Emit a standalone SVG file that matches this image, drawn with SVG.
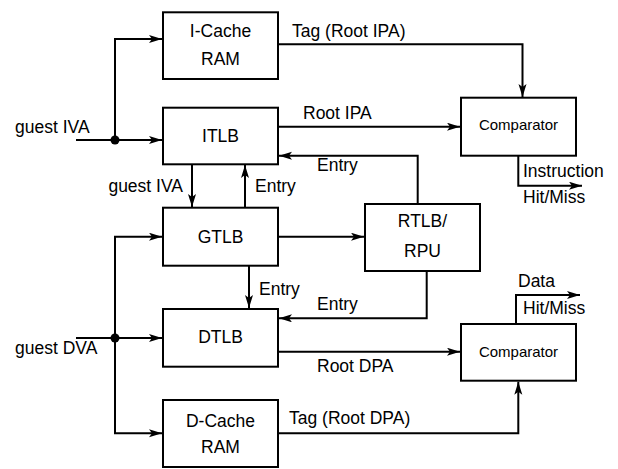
<svg xmlns="http://www.w3.org/2000/svg" width="618" height="469" viewBox="0 0 618 469">
<style>
.box{fill:#fff;stroke:#000;stroke-width:2}
.w{fill:none;stroke:#000;stroke-width:2}
text{font-family:"Liberation Sans",Arial,sans-serif;font-size:17.5px;fill:#000}
.c{text-anchor:middle}
.cmp{font-size:15px}
</style>
<defs>
<marker id="ah" markerUnits="userSpaceOnUse" markerWidth="14" markerHeight="10" refX="13" refY="4" orient="auto">
<path d="M0,0 L13,4 L0,8 L3,4 z" fill="#000"/>
</marker>
</defs>
<g id="connectors">
<path class="w" d="M115,140 V39 H162" marker-end="url(#ah)"/>
<path class="w" d="M76,140 H162" marker-end="url(#ah)"/>
<circle cx="115" cy="140" r="4.5" fill="#000"/>
<path class="w" d="M278,44.3 H522.5 V97" marker-end="url(#ah)"/>
<path class="w" d="M278,126.7 H460" marker-end="url(#ah)"/>
<path class="w" d="M417.7,204 V155.7 H279" marker-end="url(#ah)"/>
<path class="w" d="M192,164 V207" marker-end="url(#ah)"/>
<path class="w" d="M245,208 V165" marker-end="url(#ah)"/>
<path class="w" d="M518.3,155.7 V185.7 H582" marker-end="url(#ah)"/>
<path class="w" d="M115,338 V236.7 H162" marker-end="url(#ah)"/>
<path class="w" d="M115,338 V433.3 H162" marker-end="url(#ah)"/>
<path class="w" d="M76,338 H162" marker-end="url(#ah)"/>
<circle cx="115" cy="338" r="4.5" fill="#000"/>
<path class="w" d="M278,236.7 H364" marker-end="url(#ah)"/>
<path class="w" d="M249,266 V308" marker-end="url(#ah)"/>
<path class="w" d="M426.7,271 V318.3 H279" marker-end="url(#ah)"/>
<path class="w" d="M278,351.7 H460" marker-end="url(#ah)"/>
<path class="w" d="M278,433.3 H518.3 V381.7" marker-end="url(#ah)"/>
<path class="w" d="M516,324 V295 H580" marker-end="url(#ah)"/>
</g>
<g id="labels">
<text x="15" y="133">guest IVA</text>
<text x="15" y="354">guest DVA</text>
<text x="292" y="36.7">Tag (Root IPA)</text>
<text x="303" y="119">Root IPA</text>
<text x="317" y="170.7">Entry</text>
<text x="183" y="191.7" text-anchor="end">guest IVA</text>
<text x="255" y="191.7">Entry</text>
<text x="523" y="176.7">Instruction</text>
<text x="523" y="203">Hit/Miss</text>
<text x="259" y="295">Entry</text>
<text x="317" y="310">Entry</text>
<text x="518" y="287">Data</text>
<text x="523" y="314">Hit/Miss</text>
<text x="317" y="371.7">Root DPA</text>
<text x="289" y="424">Tag (Root DPA)</text>
</g>
<g id="icache"><rect class="box" x="163" y="12.3" width="115" height="66.7"/><text class="c" x="220.5" y="36.7">I-Cache</text><text class="c" x="220.5" y="65">RAM</text></g>
<g id="itlb"><rect class="box" x="163" y="107.7" width="115" height="56.6"/><text class="c" x="220.5" y="142">ITLB</text></g>
<g id="gtlb"><rect class="box" x="163" y="207.7" width="115" height="58"/><text class="c" x="220.5" y="243">GTLB</text></g>
<g id="dtlb"><rect class="box" x="163" y="309" width="115" height="57.7"/><text class="c" x="220.5" y="343">DTLB</text></g>
<g id="dcache"><rect class="box" x="163" y="400" width="115" height="67"/><text class="c" x="220.5" y="426.7">D-Cache</text><text class="c" x="220.5" y="453">RAM</text></g>
<g id="rtlb"><rect class="box" x="365" y="204" width="115" height="67"/><text class="c" x="422.5" y="226.7">RTLB/</text><text class="c" x="422.5" y="256.7">RPU</text></g>
<g id="comp1"><rect class="box" x="461" y="97.7" width="115" height="58"/><text class="c cmp" x="518.5" y="130">Comparator</text></g>
<g id="comp2"><rect class="box" x="461" y="324" width="115" height="56.7"/><text class="c cmp" x="518.5" y="356.7">Comparator</text></g>
</svg>
